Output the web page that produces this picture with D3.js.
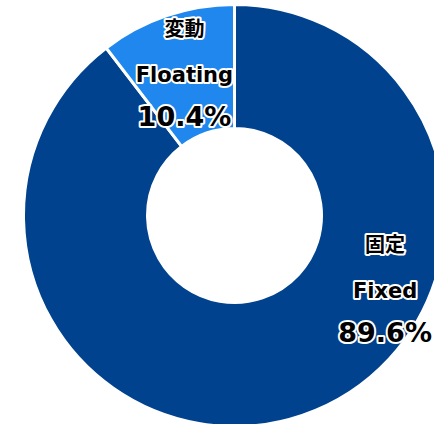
<!DOCTYPE html>
<html>
<head>
<meta charset="utf-8">
<script src="https://cdn.jsdelivr.net/npm/d3@7"></script>
<style>
  body { margin: 0; background: #fff; }
  svg { display: block; }
  text { font-family: "DejaVu Sans", "Noto Sans CJK JP", sans-serif; font-weight: bold; }
</style>
</head>
<body>
<svg width="434" height="424"></svg>
<script>
// data
var labelsJa = ["固定", "変動"];
var labelsEn = ["Fixed", "Floating"];
var shares = [89.6, 10.4];
var colors = ["#00428E", "#1F87EE"];

var svg = d3.select("svg"),
    cx = 234.5,
    cy = 215.5,
    outerR = 211,
    innerR = 87;

var g = svg.append("g")
    .attr("transform", "translate(" + cx + "," + cy + ")");

var pie = d3.pie().sort(null)(shares);
var arc = d3.arc().innerRadius(innerR).outerRadius(outerR);

g.selectAll("path.slice")
    .data(pie)
    .enter()
    .append("path")
    .attr("class", "slice")
    .attr("d", arc)
    .attr("fill", function(d, i) { return colors[i]; })
    .attr("stroke", "#fff")
    .attr("stroke-width", 3)
    .attr("stroke-linejoin", "miter");

// label anchor: angle (deg, clockwise from top) and radius
var labelPos = [[116.3, 168], [-19.5, 150]];

var labels = g.selectAll("g.lbl")
    .data(pie)
    .enter()
    .append("g")
    .attr("class", "lbl")
    .attr("transform", function(d, i) {
        var p = d3.pointRadial(labelPos[i][0] * Math.PI / 180, labelPos[i][1]);
        return "translate(" + p[0] + "," + p[1] + ")";
    });

function halo(sel) {
    sel.attr("text-anchor", "middle")
       .attr("fill", "#000")
       .attr("stroke", "#fff")
       .attr("stroke-width", 4)
       .attr("stroke-linejoin", "round")
       .attr("paint-order", "stroke");
}

labels.append("text")
    .attr("y", -38)
    .attr("font-size", 20)
    .style("font-family", "'Noto Sans CJK JP', sans-serif")
    .text(function(d, i) { return labelsJa[i]; })
    .call(halo);

labels.append("text")
    .attr("y", 8)
    .attr("font-size", 21)
    .text(function(d, i) { return labelsEn[i]; })
    .call(halo);

labels.append("text")
    .attr("y", 52)
    .attr("font-size", 27)
    .text(function(d, i) { return shares[i].toFixed(1) + "%"; })
    .call(halo);
</script>
</body>
</html>
